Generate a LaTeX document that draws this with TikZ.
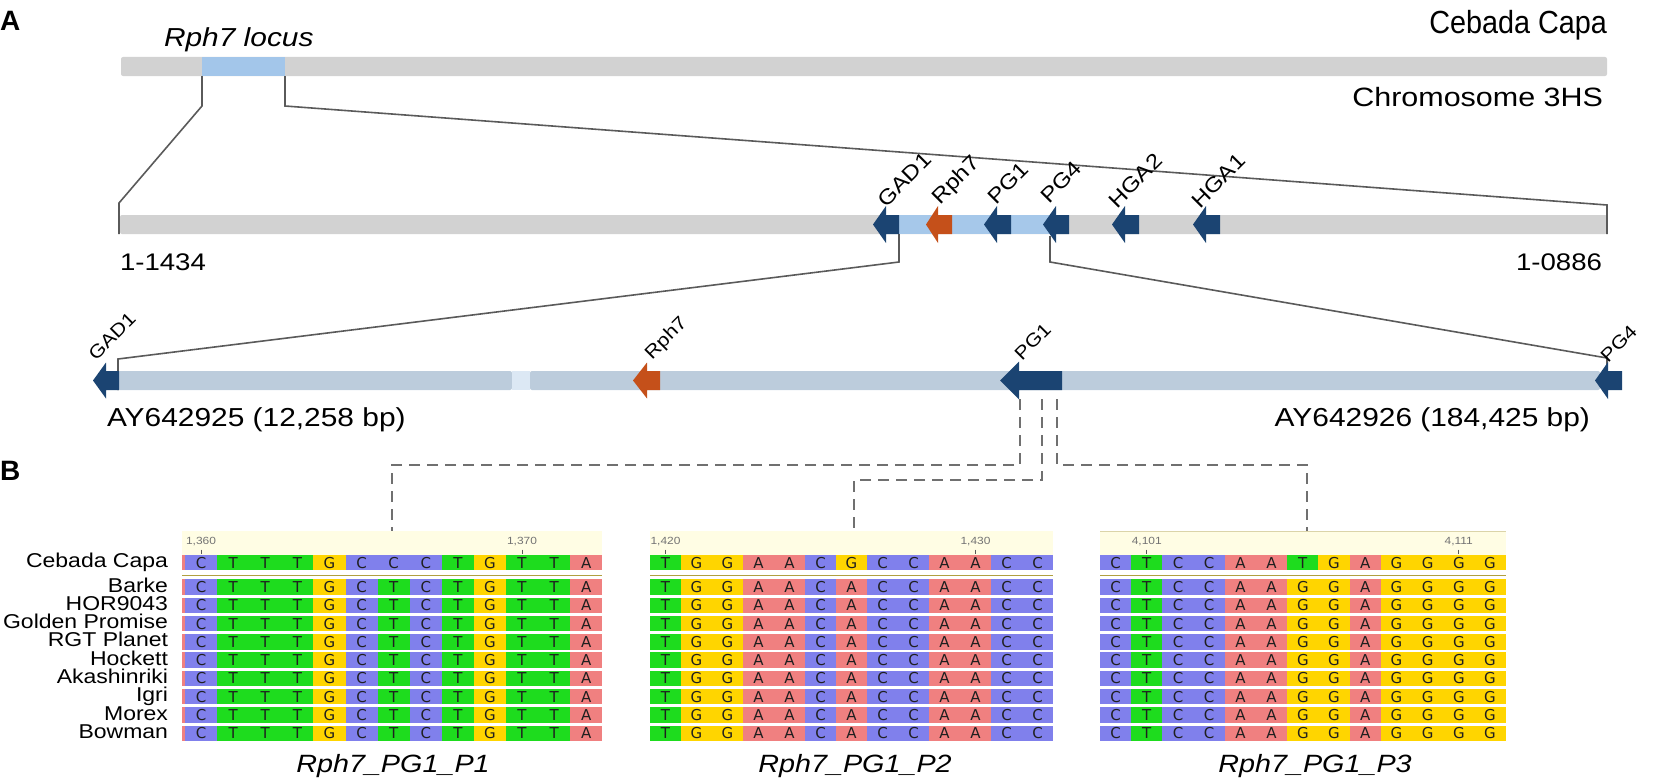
\documentclass[tikz,border=0pt]{standalone}
\usepackage{fontspec}
\setmainfont{Liberation Sans}[FakeStretch=1.15]
\newfontfamily\plainfont{Liberation Sans}
\newfontfamily\titlefont{Liberation Sans}[FakeStretch=0.9]
\newfontfamily\alnfont{DejaVu Sans}
\definecolor{barGray}{HTML}{D2D2D2}
\definecolor{locBlue}{HTML}{A3C6EA}
\definecolor{midBlue}{HTML}{A6C8EA}
\definecolor{navy}{HTML}{1B4472}
\definecolor{rust}{HTML}{C5501A}
\definecolor{rthree}{HTML}{BCCCDC}
\definecolor{rgap}{HTML}{DCE8F4}
\definecolor{connc}{HTML}{5A5A5A}
\definecolor{dashc}{HTML}{707070}
\definecolor{colA}{HTML}{F08080}
\definecolor{colC}{HTML}{8080EC}
\definecolor{colG}{HTML}{FFD500}
\definecolor{colT}{HTML}{1EDC1E}
\definecolor{hdr}{HTML}{FFFDE4}
\definecolor{sepc}{HTML}{B0A040}
\tikzset{
  txt/.style={inner sep=0pt, outer sep=0pt},
  conn/.style={draw=connc, line width=1.6pt},
  dconn/.style={draw=dashc, line width=2.2pt, dash pattern=on 11pt off 7pt},
  glabA/.style={txt, rotate=45, anchor=base west, font=\fontsize{21}{21}\selectfont},
  glabB/.style={txt, rotate=45, anchor=base west, font=\fontsize{18.5}{19}\selectfont},
  basel/.style={txt, font=\alnfont\fontsize{15}{15}\selectfont, text=black!88},
  rowlbl/.style={txt, anchor=east, text height=12.5pt, text depth=2.5pt, font=\fontsize{20}{20}\selectfont},
  ticklbl/.style={txt, font=\fontsize{10.4}{11}\selectfont, text=black!55},
  tickm/.style={draw=black!65, line width=1.1pt},
  caption/.style={txt, anchor=base, font=\itshape\fontsize{25}{26}\selectfont},
}
% tipx, basex, rightx, ycenter, headhalf, bodyhalf, colour
\newcommand\genearrow[7]{%
  \fill[#7] (#1,#4) -- (#2,#4-#5) -- (#2,#4-#6) -- (#3,#4-#6) -- (#3,#4+#6) -- (#2,#4+#6) -- (#2,#4+#5) -- cycle;}
% id, x0, width, ref list, other list
\newcommand\alnpanel[5]{%
  \foreach \b [count=\i] in {#4} {
    \fill[fill=col\b] ({#2+(\i-1)*#3},555) rectangle ++(#3,15.3);
    \node[basel, name=#1r1c\i] at ({#2+(\i-0.5)*#3},562.7) {\b};
  }
  \foreach \k in {0,...,8} {
    \foreach \b [count=\i] in {#5} {
      \fill[fill=col\b] ({#2+(\i-1)*#3},579.3+\k*18.28) rectangle ++(#3,15.5);
      \node[basel, name=#1r\k c\i] at ({#2+(\i-0.5)*#3},587.05+\k*18.28) {\b};
    }
  }
}
\begin{document}
\begin{tikzpicture}[x=1pt,y=-1pt]
\useasboundingbox (0,0) rectangle (1654,784);
% panel letters
\node[txt, anchor=base west, font=\plainfont\bfseries\fontsize{28}{28}\selectfont] (labA) at (0,31) {A};
\node[txt, anchor=base west, font=\plainfont\bfseries\fontsize{28}{28}\selectfont] (labB) at (0,480) {B};
% titles
\node[txt, anchor=base east, font=\titlefont\fontsize{32}{33}\selectfont] (title) at (1607,34) {Cebada Capa};
\node[txt, anchor=base east, font=\fontsize{26.5}{27}\selectfont] (chrom) at (1603,106) {Chromosome 3HS};
\node[txt, anchor=base west, font=\itshape\fontsize{26}{27}\selectfont] (locus) at (164,47) {Rph7 locus};
% top bar
\fill[barGray, rounded corners=2pt] (121,57) rectangle (1607,76);
\fill[locBlue] (202,57) rectangle (285,76);
% middle bar
\fill[barGray, rounded corners=2pt] (120,215) rectangle (1607,234);
\fill[midBlue] (899,215) rectangle (1050,234);
% bottom bar
\fill[rthree, rounded corners=2pt] (118,371) rectangle (512,390);
\fill[rgap] (512,371) rectangle (530,390);
\fill[rthree, rounded corners=2pt] (530,371) rectangle (1600,390);
% connectors top -> middle
\coordinate (locL) at (202,76); \coordinate (locLk) at (202,106);
\coordinate (midLk) at (119,203); \coordinate (midL) at (119,234);
\coordinate (locR) at (285,76); \coordinate (locRk) at (285,106);
\coordinate (midRk) at (1607,205); \coordinate (midR) at (1607,234);
\draw[conn] (locL) -- (locLk) -- (midLk) -- (midL);
\draw[conn] (locR) -- (locRk) -- (midRk) -- (midR);
% connectors middle -> bottom
\coordinate (gadR) at (899,234); \coordinate (gadRk) at (899,262);
\coordinate (botLk) at (118,359); \coordinate (botL) at (118,390);
\coordinate (pg4L) at (1050,236); \coordinate (pg4Lk) at (1050,262);
\coordinate (botRk) at (1607,358); \coordinate (botR) at (1607,375);
\draw[conn] (gadR) -- (gadRk) -- (botLk) -- (botL);
\draw[conn] (pg4L) -- (pg4Lk) -- (botRk) -- (botR);
% middle row genes
\genearrow{873}{886}{899}{224.5}{18.5}{9.5}{navy}
\genearrow{926}{938}{952}{224.5}{18.5}{9.5}{rust}
\genearrow{984}{997}{1011}{224.5}{18.5}{9.5}{navy}
\genearrow{1043}{1056}{1069}{224.5}{18.5}{9.5}{navy}
\genearrow{1112}{1125}{1139}{224.5}{18.5}{9.5}{navy}
\genearrow{1193}{1206}{1220}{224.5}{18.5}{9.5}{navy}
\node[glabA] (g2a) at (886,208) {GAD1};
\node[glabA] (g2b) at (940,205) {Rph7};
\node[glabA] (g2c) at (996,205) {PG1};
\node[glabA] (g2d) at (1049,204) {PG4};
\node[glabA] (g2e) at (1117,209) {HGA2};
\node[glabA] (g2f) at (1200,209) {HGA1};
\node[txt, anchor=base west, font=\fontsize{24}{24}\selectfont] (m1) at (120,270) {1-1434};
\node[txt, anchor=base east, font=\fontsize{24}{24}\selectfont] (m2) at (1602,270) {1-0886};
% bottom row genes
\genearrow{93}{106}{119}{380.5}{18}{9.5}{navy}
\genearrow{633}{647}{660}{380.5}{18}{9.5}{rust}
\genearrow{1000}{1019}{1062}{380.5}{19}{9.5}{navy}
\genearrow{1595}{1608}{1622}{380.5}{18.5}{9.5}{navy}
\node[glabB] (g3a) at (96,361) {GAD1};
\node[glabB] (g3b) at (652,360) {Rph7};
\node[glabB] (g3c) at (1022,361) {PG1};
\node[glabB] (g3d) at (1608,363) {PG4};
\node[txt, anchor=base west, font=\fontsize{26}{26}\selectfont] (acc1) at (107,426) {AY642925 (12,258 bp)};
\node[txt, anchor=base east, font=\fontsize{26}{26}\selectfont] (acc2) at (1590,426) {AY642926 (184,425 bp)};
% dashed connectors
\coordinate (d1s) at (1020,399); \coordinate (d1m) at (1020,465); \coordinate (d1e) at (392,531);
\coordinate (d2s) at (1042,399); \coordinate (d2m) at (1042,480); \coordinate (d2e) at (854,531);
\coordinate (d3s) at (1057,399); \coordinate (d3m) at (1057,465); \coordinate (d3e) at (1307,531);
\draw[dconn] (d1s) -- (d1m) -| (d1e);
\draw[dconn] (d2s) -- (d2m) -| (d2e);
\draw[dconn] (d3s) -- (d3m) -| (d3e);
% alignment headers
\fill[hdr] (182,531) rectangle (602.3,555);
\fill[hdr] (650,531) rectangle (1053,555);
\fill[hdr] (1100,531) rectangle (1505.6,555);
\draw[draw=sepc!45, line width=0.8pt] (1100,531) -- (1505.6,531);
% separators
\draw[sepc, line width=1.4pt] (182,575.2) -- (602.3,575.2);
\draw[sepc, line width=1.4pt] (650,575.2) -- (1053,575.2);
\draw[sepc, line width=1.4pt] (1100,575.2) -- (1505.6,575.2);
% slivers on panel 1
\fill[colA] (182,555) rectangle (185,570.3);
\foreach \k in {0,...,8} { \fill[colA] (182,579.3+\k*18.28) rectangle (185,594.8+\k*18.28); }
% panels
\alnpanel{p1}{185}{32.1}{C,T,T,T,G,C,C,C,T,G,T,T,A}{C,T,T,T,G,C,T,C,T,G,T,T,A}
\alnpanel{p2}{650}{31}{T,G,G,A,A,C,G,C,C,A,A,C,C}{T,G,G,A,A,C,A,C,C,A,A,C,C}
\alnpanel{p3}{1100}{31.2}{C,T,C,C,A,A,T,G,A,G,G,G,G}{C,T,C,C,A,A,G,G,A,G,G,G,G}
% ticks
\node[ticklbl] (t1) at (201.05,542) {1,360}; \draw[tickm] (201.05,549.5) -- (201.05,554);
\node[ticklbl] (t2) at (522.05,542) {1,370}; \draw[tickm] (522.05,549.5) -- (522.05,554);
\node[ticklbl] (t3) at (665.5,542) {1,420}; \draw[tickm] (665.5,549.5) -- (665.5,554);
\node[ticklbl] (t4) at (975.5,542) {1,430}; \draw[tickm] (975.5,549.5) -- (975.5,554);
\node[ticklbl] (t5) at (1146.8,542) {4,101}; \draw[tickm] (1146.8,549.5) -- (1146.8,554);
\node[ticklbl] (t6) at (1458.8,542) {4,111}; \draw[tickm] (1458.8,549.5) -- (1458.8,554);
% row labels
\node[rowlbl] (n0) at (168,562.7) {Cebada Capa};
\foreach \nm [count=\j from 0] in {Barke,HOR9043,Golden Promise,RGT Planet,Hockett,Akashinriki,Igri,Morex,Bowman} {
  \node[rowlbl, name=n\j x] at (168,587.05+\j*18.28) {\nm};
}
% captions
\node[caption] (c1) at (393,772) {Rph7\_PG1\_P1};
\node[caption] (c2) at (855,772) {Rph7\_PG1\_P2};
\node[caption] (c3) at (1315,772) {Rph7\_PG1\_P3};
\end{tikzpicture}
\end{document}
